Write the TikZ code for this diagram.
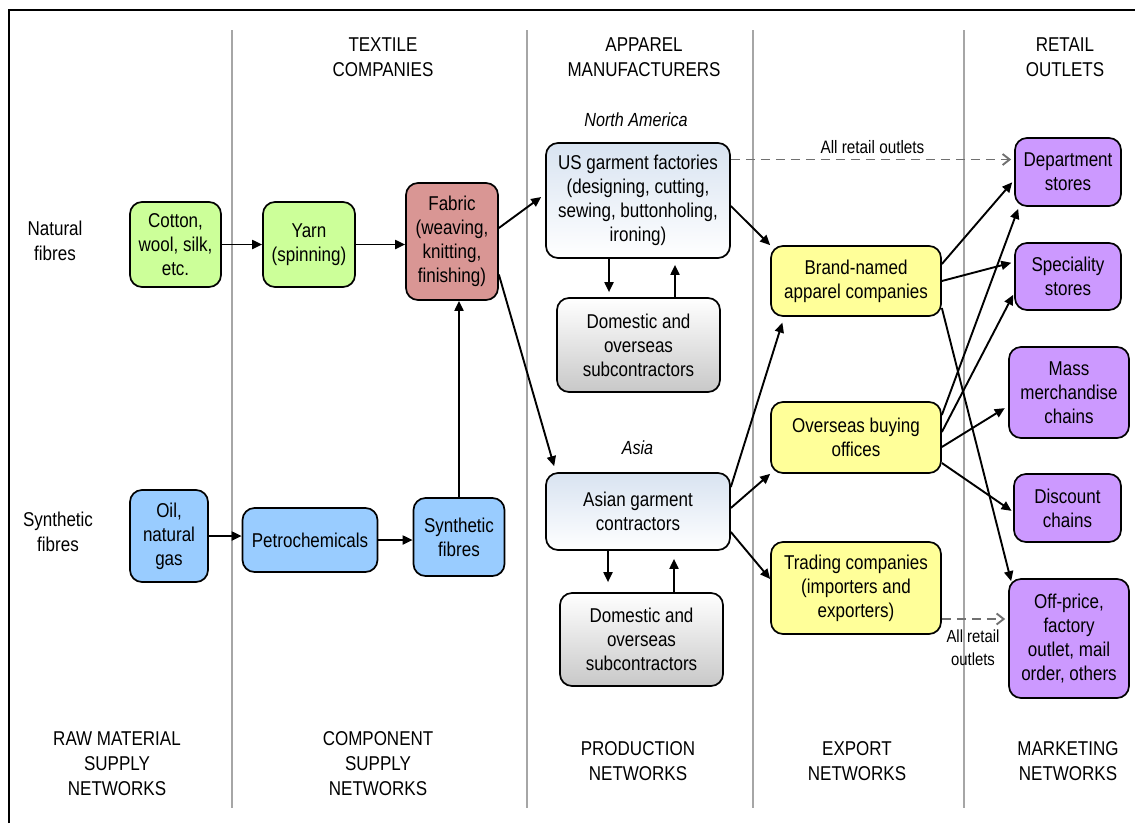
\documentclass[tikz,border=0pt]{standalone}
\usepackage{fontspec}
\setmainfont[FakeStretch=0.85]{Liberation Sans}
\usepackage{tikz}
\usetikzlibrary{positioning,arrows.meta,calc}

\definecolor{rawgreen}{HTML}{CCFF99}
\definecolor{fabricred}{HTML}{D99694}
\definecolor{synthblue}{HTML}{99CCFF}
\definecolor{exportyellow}{HTML}{FFFF99}
\definecolor{retailpurple}{HTML}{CC99FF}
\definecolor{garmenttop}{HTML}{D8E3F1}
\definecolor{subgray}{HTML}{C8C8C8}
\definecolor{dashgray}{HTML}{707070}
\definecolor{sepgray}{HTML}{A6A6A6}

\begin{document}
\begin{tikzpicture}[
    x=1pt, y=-1pt,
    box/.style={
        draw,
        rectangle,
        rounded corners=12pt,
        line width=1.7pt,
        inner sep=0pt,
        align=center,
        font=\fontsize{20}{24}\selectfont
    },
    garment/.style={box, top color=garmenttop, bottom color=white},
    subcon/.style={box, top color=white, bottom color=subgray},
    heading/.style={align=center, font=\fontsize{20}{25}\selectfont},
    region/.style={font=\fontsize{19}{24}\selectfont\itshape},
    arr/.style={-{Triangle[length=10pt,width=9pt]}, line width=1.9pt},
    dasharr/.style={-{Straight Barb[length=7pt,width=11pt]}, line width=1.9pt, dashgray, dash pattern=on 9pt off 6pt}
]

\useasboundingbox (0,0) rectangle (1135,823);
\draw[line width=1.5pt] (9,823) -- (9,10) -- (1135,10);
\foreach \sx in {232,527,753,964}
    \draw[sepgray, line width=1.1pt] (\sx,30) -- (\sx,808);

% column headings
\node[heading] (hdtextile) at (383,57) {TEXTILE\\COMPANIES};
\node[heading] (hdapparel) at (644,57) {APPAREL\\MANUFACTURERS};
\node[heading] (hdretail) at (1065,57) {RETAIL\\OUTLETS};
\node[heading] (lbnatural) at (55,241) {Natural\\fibres};
\node[heading] (lbsynthetic) at (58,532) {Synthetic\\fibres};
\node[region] (lbamerica) at (636,120) {North America};
\node[region] (lbasia) at (637.5,448) {Asia};

% raw materials and components
\node[box, fill=rawgreen, minimum width=91pt, minimum height=85pt] (cotton) at (175.5,244.5) {Cotton,\\wool, silk,\\etc.};
\node[box, fill=rawgreen, minimum width=92pt, minimum height=85pt] (yarn) at (309,244.5) {Yarn\\(spinning)};
\node[box, fill=fabricred, minimum width=92pt, minimum height=117pt] (fabric) at (452,241.5) {Fabric\\(weaving,\\knitting,\\finishing)};
\node[box, fill=synthblue, minimum width=78pt, minimum height=92pt] (oil) at (169,536) {Oil,\\natural\\gas};
\node[box, fill=synthblue, minimum width=135pt, minimum height=64pt] (petro) at (310,540) {Petrochemicals};
\node[box, fill=synthblue, minimum width=91pt, minimum height=78pt] (synth) at (459,537) {Synthetic\\fibres};

% production
\node[garment, minimum width=184pt, minimum height=115pt] (usfact) at (638,200.5) {US garment factories\\(designing, cutting,\\sewing, buttonholing,\\ironing)};
\node[subcon, minimum width=163pt, minimum height=94pt] (domone) at (638.5,345) {Domestic and\\overseas\\subcontractors};
\node[garment, minimum width=184pt, minimum height=77pt] (asian) at (638,511.5) {Asian garment\\contractors};
\node[subcon, minimum width=163pt, minimum height=93pt] (domtwo) at (641.5,639.5) {Domestic and\\overseas\\subcontractors};

% export
\node[box, fill=exportyellow, minimum width=170pt, minimum height=70pt] (brand) at (856,281) {Brand-named\\apparel companies};
\node[box, fill=exportyellow, minimum width=170pt, minimum height=71pt] (buying) at (856,437.5) {Overseas buying\\offices};
\node[box, fill=exportyellow, minimum width=170pt, minimum height=92pt] (trading) at (856,588) {Trading companies\\(importers and\\exporters)};

% retail
\node[box, fill=retailpurple, minimum width=106pt, minimum height=68pt] (dept) at (1068,172) {Department\\stores};
\node[box, fill=retailpurple, minimum width=106pt, minimum height=67pt] (spec) at (1068,276.5) {Speciality\\stores};
\node[box, fill=retailpurple, minimum width=120pt, minimum height=91pt] (mass) at (1069,392.5) {Mass\\merchandise\\chains};
\node[box, fill=retailpurple, minimum width=107pt, minimum height=68pt] (discount) at (1067.5,508) {Discount\\chains};
\node[box, fill=retailpurple, minimum width=120pt, minimum height=119pt] (offprice) at (1069,638.5) {Off-price,\\factory\\outlet, mail\\order, others};

% network names
\node[heading] (ftraw) at (117,764) {RAW MATERIAL\\SUPPLY\\NETWORKS};
\node[heading] (ftcomp) at (378,764) {COMPONENT\\SUPPLY\\NETWORKS};
\node[heading] (ftprod) at (638,761.5) {PRODUCTION\\NETWORKS};
\node[heading] (ftexport) at (857,761.5) {EXPORT\\NETWORKS};
\node[heading] (ftmarket) at (1068,761.5) {MARKETING\\NETWORKS};

\draw[arr] (cotton.east) -- (cotton.east -| yarn.west);
\draw[arr] (yarn.east) -- (yarn.east -| fabric.west);
\draw[arr] (oil.east) -- (oil.east -| petro.west);
\draw[arr] (petro.east) -- (petro.east -| synth.west);
\draw[arr] (synth.north) -- (synth.north |- fabric.south);
\draw[arr] ([yshift=13.5pt]fabric.east) -- ([xshift=-4pt,yshift=3.5pt]usfact.west);
\draw[arr] ([yshift=-33pt]fabric.east) -- ([xshift=9pt,yshift=6pt]asian.north west);

\draw[arr, shorten >=5pt] ([xshift=-29pt]usfact.south) -- ([xshift=-29pt]usfact.south |- domone.north);
\draw[arr, shorten >=6pt] ([xshift=37pt]usfact.south |- domone.north) -- ([xshift=37pt]usfact.south);
\draw[arr, shorten >=10pt] ([xshift=-30pt]asian.south) -- ([xshift=-30pt]asian.south |- domtwo.north);
\draw[arr, shorten >=8pt] ([xshift=36pt]asian.south |- domtwo.north) -- ([xshift=36pt]asian.south);

\draw[arr] ([yshift=-5.5pt]usfact.east) -- (brand.north west);
\draw[arr, shorten >=6pt] ([yshift=24.5pt]asian.east) -- ([xshift=14pt]brand.south west);
\draw[arr] ([yshift=3.5pt]asian.east) -- (buying.south west);
\draw[arr] ([yshift=-20.5pt]asian.east) -- ([yshift=9pt]trading.west);

\draw[arr, shorten >=3pt] ([yshift=17pt]brand.east) -- ([yshift=-8pt]dept.west);
\draw[arr, shorten >=3pt] (brand.east) -- ([yshift=14.5pt]spec.west);
\draw[arr] ([yshift=-27pt]brand.east) -- ([xshift=3pt,yshift=-3pt]offprice.north west);
\draw[arr] ([yshift=22.5pt]buying.east) -- ([xshift=4pt,yshift=-2pt]dept.south west);
\draw[arr, shorten >=2pt] ([yshift=5.5pt]buying.east) -- ([yshift=-16.5pt]spec.west);
\draw[arr, shorten >=4pt] ([yshift=-9.5pt]buying.east) -- ([yshift=-13.5pt]mass.west);
\draw[arr, shorten >=2pt] ([yshift=-25.5pt]buying.east) -- ([yshift=-4pt]discount.west);

\draw[dasharr, shorten >=3pt] ([yshift=41pt]usfact.east) -- ([yshift=41pt]usfact.east -| dept.west)
    node[midway, above=2pt, black, font=\fontsize{18}{22}\selectfont] (lballtop) {All retail outlets};
\draw[dasharr, shorten >=3pt] ([yshift=-31pt]trading.east) -- ([yshift=-31pt]trading.east -| offprice.west);
\node[align=center, font=\fontsize{17.5}{23}\selectfont] (lballbottom) at (973,648) {All retail\\outlets};

\end{tikzpicture}
\end{document}
